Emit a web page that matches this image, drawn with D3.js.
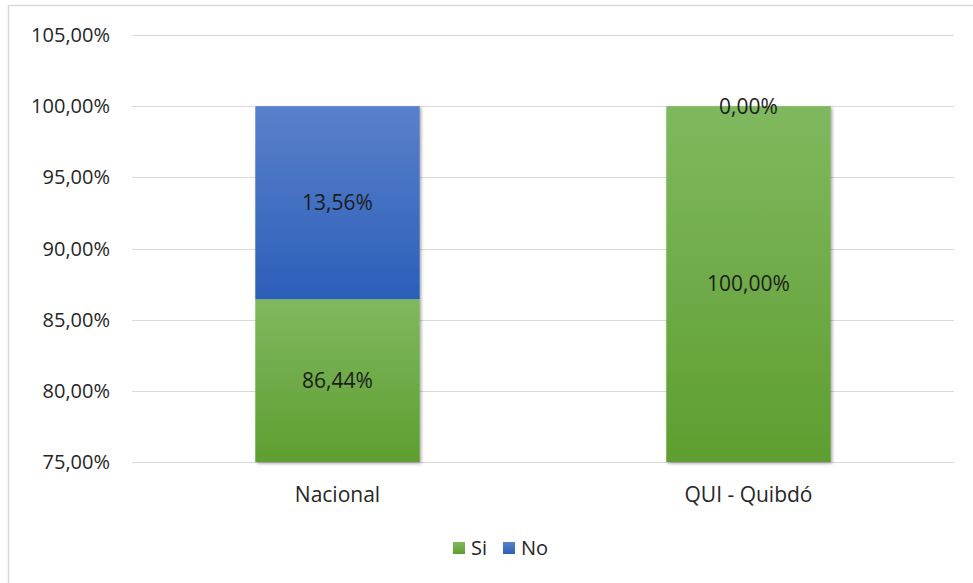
<!DOCTYPE html>
<html>
<head>
<meta charset="utf-8">
<script src="https://cdn.jsdelivr.net/npm/d3@7"></script>
<style>
  body { margin: 0; background: #fff; }
  text { font-family: "Open Sans", "Noto Sans", sans-serif; fill: #262626; }
</style>
</head>
<body>
<div id="chart"></div>
<script>
const width = 973;
const height = 583;

const categories = ["Nacional", "QUI - Quibdó"];
const siValues = [86.44, 100.00];
const noValues = [13.56, 0.00];
const yTicks = [75, 80, 85, 90, 95, 100, 105];
const seriesNames = ["Si", "No"];

const margin = {top: 35, right: 19, bottom: 121, left: 132};

const svg = d3.select("#chart").append("svg")
    .attr("width", width)
    .attr("height", height);

const defs = svg.append("defs");

function gradient(id, top, bottom) {
    const g = defs.append("linearGradient")
        .attr("id", id)
        .attr("x1", 0).attr("y1", 0).attr("x2", 0).attr("y2", 1);
    g.append("stop").attr("offset", "0%").attr("stop-color", top);
    g.append("stop").attr("offset", "100%").attr("stop-color", bottom);
}
gradient("gSi", "#80b85f", "#5e9e30");
gradient("gNo", "#5a80cc", "#2c5fb8");

const shadow = defs.append("filter").attr("id", "shadow")
    .attr("x", "-10%").attr("y", "-10%").attr("width", "130%").attr("height", "130%");
shadow.append("feDropShadow")
    .attr("dx", 1.5).attr("dy", 1.5).attr("stdDeviation", 1.8)
    .attr("flood-color", "#000").attr("flood-opacity", 0.35);

// chart frame
svg.append("path")
    .attr("d", `M8.5,${height} V5.5 H${width}`)
    .attr("fill", "none")
    .attr("stroke", "#d9d9d9")
    .attr("stroke-width", 1.5);

const x = d3.scaleBand()
    .domain(categories)
    .range([margin.left, width - margin.right])
    .paddingInner(0.6)
    .paddingOuter(0.3);

const y = d3.scaleLinear()
    .domain([75, 105])
    .range([height - margin.bottom, margin.top]);

// grid
svg.append("g")
  .selectAll("line")
  .data(yTicks)
  .join("line")
    .attr("x1", margin.left)
    .attr("x2", width - margin.right)
    .attr("y1", d => Math.round(y(d)) + 0.5)
    .attr("y2", d => Math.round(y(d)) + 0.5)
    .attr("stroke", "#d9d9d9")
    .attr("stroke-width", 1);

const fmt = v => v.toFixed(2).replace(".", ",") + "%";

// y axis labels
svg.append("g")
  .selectAll("text")
  .data(yTicks)
  .join("text")
    .attr("x", 110)
    .attr("y", d => y(d))
    .attr("dy", "0.35em")
    .attr("text-anchor", "end")
    .attr("font-size", 20)
    .text(d => fmt(d));

const rows = categories.map((c, i) => ({cat: c, si: siValues[i], no: noValues[i]}));

const bars = svg.append("g").attr("filter", "url(#shadow)");

bars.selectAll("rect.si")
  .data(rows)
  .join("rect")
    .attr("class", "si")
    .attr("x", d => x(d.cat))
    .attr("width", x.bandwidth())
    .attr("y", d => y(d.si))
    .attr("height", d => y(75) - y(d.si))
    .attr("fill", "url(#gSi)");

bars.selectAll("rect.no")
  .data(rows.filter(d => d.no > 0))
  .join("rect")
    .attr("class", "no")
    .attr("x", d => x(d.cat))
    .attr("width", x.bandwidth())
    .attr("y", d => y(d.si + d.no))
    .attr("height", d => y(d.si) - y(d.si + d.no))
    .attr("fill", "url(#gNo)");

// data labels
const labels = svg.append("g").attr("font-size", 21).attr("text-anchor", "middle");

labels.selectAll("text.si")
  .data(rows)
  .join("text")
    .attr("x", d => x(d.cat) + x.bandwidth() / 2)
    .attr("y", d => y((75 + d.si) / 2))
    .attr("dy", "0.35em")
    .style("fill", "#1c1c1c")
    .text(d => fmt(d.si));

labels.selectAll("text.no")
  .data(rows)
  .join("text")
    .attr("x", d => x(d.cat) + x.bandwidth() / 2)
    .attr("y", d => y(d.si + d.no / 2))
    .attr("dy", "0.35em")
    .style("fill", "#1c1c1c")
    .text(d => fmt(d.no));

// x labels
svg.append("g")
  .selectAll("text")
  .data(categories)
  .join("text")
    .attr("x", d => x(d) + x.bandwidth() / 2)
    .attr("y", 495)
    .attr("dy", "0.35em")
    .attr("text-anchor", "middle")
    .attr("font-size", 21)
    .text(d => d);

// legend
const legend = svg.append("g").attr("transform", "translate(453,548)");
const legendItems = legend.selectAll("g")
  .data(seriesNames)
  .join("g")
    .attr("transform", (d, i) => `translate(${i * 50},0)`);
legendItems.append("rect")
    .attr("x", 0).attr("y", -6)
    .attr("width", 12).attr("height", 12)
    .attr("fill", (d, i) => i === 0 ? "url(#gSi)" : "url(#gNo)");
legendItems.append("text")
    .attr("x", 18)
    .attr("dy", "0.35em")
    .attr("font-size", 20)
    .text(d => d);
</script>
</body>
</html>
